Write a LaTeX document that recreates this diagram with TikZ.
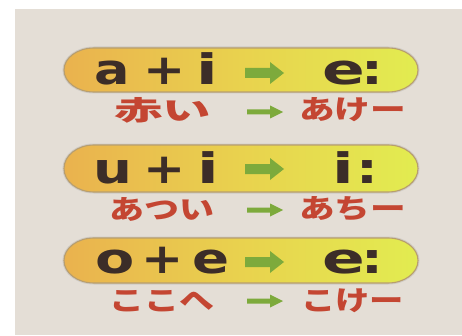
\documentclass[tikz,border=0pt]{standalone}
\usepackage{fontspec}
\setmainfont{DejaVu Sans}
\newfontfamily\jpfont{Noto Sans CJK JP}
\definecolor{bgcol}{HTML}{E4DED6}
\definecolor{pillL}{HTML}{EAB24E}
\definecolor{pillM}{HTML}{E9D24E}
\definecolor{pillR}{HTML}{E2EC50}
\definecolor{pillEdge}{HTML}{B89E6E}
\definecolor{txtdark}{HTML}{3C2D28}
\definecolor{txtred}{HTML}{C44632}
\definecolor{arrgreen}{HTML}{7DAA3C}
\newcommand\pillpath[2]{(94,#1+#2) -- (388,#1+#2) arc[start angle=90,end angle=-90,x radius=30,y radius=#2] -- (94,#1-#2) arc[start angle=270,end angle=90,x radius=30,y radius=#2] -- cycle}
\newcommand\bigarrowpath[1]{(245,#1+5) -- (270,#1+5) -- (270,#1+11) -- (284,#1) -- (270,#1-11) -- (270,#1-5) -- (245,#1-5) -- cycle}
\newcommand\smallarrowpath[1]{(247,#1+2.5) -- (270,#1+2.5) -- (270,#1+6.5) -- (283,#1) -- (270,#1-6.5) -- (270,#1-2.5) -- (247,#1-2.5) -- cycle}
\newcommand\gl[2]{\scalebox{#1}[1]{#2}}
\newcommand\jw[2]{\resizebox{#1pt}{\height}{\jpfont\bfseries #2}}
\tikzset{
  glyph/.style={anchor=base,inner sep=0pt,text=txtdark,font=\fontsize{42}{42}\selectfont\bfseries},
  redword/.style={anchor=center,inner sep=0pt,text=txtred,font=\fontsize{27}{27}\selectfont},
  pillshade/.style={left color=pillL,right color=pillR,middle color=pillM},
  pillline/.style={draw=pillEdge,line width=1.1pt},
  pillshadow/.style={draw=black!35,line width=3pt,opacity=0.35},
  arrowfill/.style={fill=arrgreen}
}
\begin{document}
\begin{tikzpicture}[x=1pt,y=1pt]
\useasboundingbox (0,0) rectangle (462,335);
\fill[white] (0,0) rectangle (462,335);
\fill[bgcol] (15,0) rectangle (462,326);
% pills
\draw[pillshadow] \pillpath{265}{22};
\shade[pillshade] \pillpath{265}{22};
\draw[pillline] \pillpath{265}{22};
\draw[pillshadow] \pillpath{166.5}{23.5};
\shade[pillshade] \pillpath{166.5}{23.5};
\draw[pillline] \pillpath{166.5}{23.5};
\draw[pillshadow] \pillpath{74.5}{22.5};
\shade[pillshade] \pillpath{74.5}{22.5};
\draw[pillline] \pillpath{74.5}{22.5};
% big arrows
\fill[arrowfill] \bigarrowpath{262};
\fill[arrowfill] \bigarrowpath{166};
\fill[arrowfill] \bigarrowpath{73};
% small arrows
\fill[arrowfill] \smallarrowpath{223};
\fill[arrowfill] \smallarrowpath{125};
\fill[arrowfill] \smallarrowpath{34};
% row 1 glyphs
\node[glyph] (r1a) at (112,250) {\gl{1.25}{a}};
\node[glyph] (r1p) at (164.5,250) {\gl{1.2}{+}};
\node[glyph] (r1i) at (207.5,250) {\gl{1.5}{i}};
\node[glyph] (r1e) at (344,250) {\gl{1.5}{e}};
\node[glyph] (r1c) at (372.5,250) {\gl{1.3}{:}};
% row 2 glyphs
\node[glyph] (r2u) at (112.5,152) {\gl{1.3}{u}};
\node[glyph] (r2p) at (165,152) {\gl{1.2}{+}};
\node[glyph] (r2i) at (208,152) {\gl{1.5}{i}};
\node[glyph] (r2j) at (343,152) {\gl{1.5}{i}};
\node[glyph] (r2c) at (367.5,152) {\gl{1.3}{:}};
% row 3 glyphs
\node[glyph] (r3o) at (115,62) {\gl{1.36}{o}};
\node[glyph] (r3p) at (162.5,62) {\gl{1.2}{+}};
\node[glyph] (r3e) at (211.5,62) {\gl{1.3}{e}};
\node[glyph] (r3f) at (344,62) {\gl{1.5}{e}};
\node[glyph] (r3c) at (372.5,62) {\gl{1.3}{:}};
% red words
\node[redword] (w1a) at (162.5,225) {\jw{97}{赤い}};
\node[redword] (w1b) at (352.5,225) {\jw{107}{あけー}};
\node[redword] (w2a) at (161.5,126) {\jw{105}{あつい}};
\node[redword] (w2b) at (352.5,126) {\jw{107}{あちー}};
\node[redword] (w3a) at (161.5,34) {\jw{105}{ここへ}};
\node[redword] (w3b) at (352.5,34) {\jw{103}{こけー}};
\end{tikzpicture}
\end{document}
